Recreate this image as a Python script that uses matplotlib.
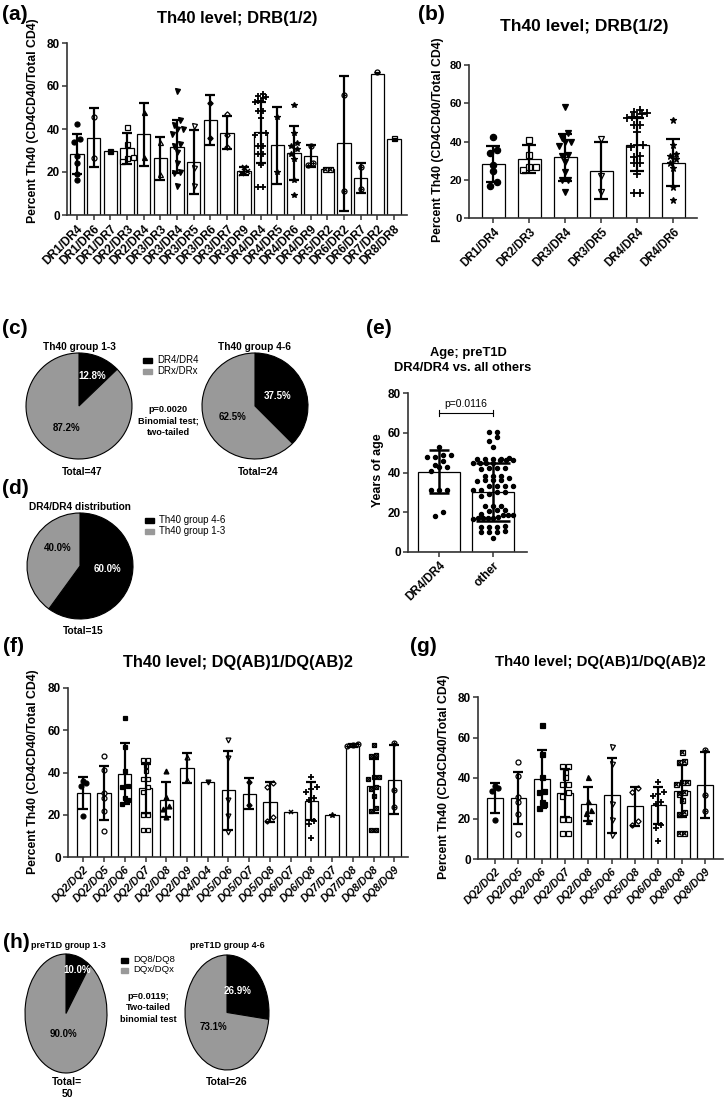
import numpy as np
import matplotlib.pyplot as plt
from matplotlib.patches import Rectangle

plt.rcParams['font.family'] = ['Liberation Sans', 'DejaVu Sans']

W, H = 724, 1100

# ---- Th40 level by DRB(1/2) genotype, panels (a) and (b)
a_labels = ['DR1/DR4', 'DR1/DR6', 'DR1/DR7', 'DR2/DR3', 'DR2/DR4', 'DR3/DR3', 'DR3/DR4',
            'DR3/DR5', 'DR3/DR6', 'DR3/DR7', 'DR3/DR9', 'DR4/DR4', 'DR4/DR5', 'DR4/DR6',
            'DR4/DR9', 'DR5/DR2', 'DR6/DR2', 'DR6/DR7', 'DR7/DR2', 'DR8/DR8']
a_mean = [28.3, 35.9, 30.0, 31.0, 37.5, 26.4, 31.7, 24.8, 44.0, 38.3,
          20.6, 38.4, 32.5, 28.9, 27.5, 21.2, 33.3, 17.2, 65.8, 35.5]
a_sd = [9.4, 13.8, 0, 7.3, 14.5, 10.1, 12.3, 14.8, 11.6, 7.6,
        1.9, 14.0, 17.9, 12.4, 5.2, 0, 31.3, 6.8, 0, 0]
a_points = [
    [42.5, 35.4, 33.9, 27.6, 24.4, 19.0, 16.5],
    [45.8, 26.5],
    [30.0],
    [40.9, 32.8, 26.8, 26.5, 24.9],
    [47.7, 26.9],
    [33.8, 19.2],
    [57.8, 44.2, 42.0, 40.0, 39.8, 37.7, 32.8, 32.3, 29.3, 24.1, 20.0, 19.7, 13.6],
    [41.4, 22.0, 13.4],
    [52.1, 35.9],
    [46.9, 37.0, 31.7],
    [22.5, 20.6, 19.7],
    [56.4, 55.2, 54.7, 54.2, 53.0, 52.9, 52.5, 48.6, 48.4, 45.1, 38.1, 38.1, 37.2,
     32.3, 32.0, 28.5, 28.5, 23.2, 13.1, 13.1],
    [45.4, 19.8],
    [51.2, 38.1, 33.7, 32.3, 30.6, 28.5, 25.9, 16.2, 9.3],
    [32.0, 24.0, 23.3],
    [21.3, 21.3],
    [55.6, 11.2],
    [22.2, 12.2],
    [66.3],
    [35.9],
]
a_marks = ['o', 'oo', 's', 'os', '^', 'o^', 'v', 'ov', 'D', 'oD',
           'x', '+', '*', '*', 'cp', 'bx', 'cp', 'cp', 'hc', 'hs']
b_labels = ['DR1/DR4', 'DR2/DR3', 'DR3/DR4', 'DR3/DR5', 'DR4/DR4', 'DR4/DR6']

# ---- pies (c), (d), (h)
c_names = ['DR4/DR4', 'DRx/DRx']
c_low = [12.8, 87.2]
c_high = [37.5, 62.5]
d_names = ['Th40 group 4-6', 'Th40 group 1-3']
d_vals = [60.0, 40.0]
h_names = ['DQ8/DQ8', 'DQx/DQx']
h_low = [10.0, 90.0]
h_high = [26.9, 73.1]

# ---- age, panel (e)
e_labels = ['DR4/DR4', 'other']
e_mean = [40.4, 30.3]
e_sd = [10.9, 14.6]
e_dr4 = [53, 49, 48, 48, 49, 46, 44, 43, 43, 41, 31, 31, 31, 20, 18]
e_other = [60.3, 60.3, 58, 56, 53,
           47, 47, 46.5, 47, 47.5, 46.5, 46.5, 47,
           44.6, 44.6, 44.6, 44.6,
           42.5, 42.5, 42, 42.5,
           38, 38, 37, 38,
           36, 36, 36, 35.5,
           33, 33, 33, 33,
           31, 30, 31, 30,
           28, 29,
           23, 23, 23,
           21, 20.5, 21,
           18.5, 18.5, 18.5, 19,
           17, 16.5, 17, 17, 17, 17.5,
           12.5, 12.5, 12.5, 13,
           10, 10, 10.5, 10,
           7]

# ---- Th40 level by DQ genotype, panels (f) and (g)
f_labels = ['DQ2/DQ2', 'DQ2/DQ5', 'DQ2/DQ6', 'DQ2/DQ7', 'DQ2/DQ8', 'DQ2/DQ9', 'DQ4/DQ4',
            'DQ5/DQ6', 'DQ5/DQ7', 'DQ5/DQ8', 'DQ6/DQ7', 'DQ6/DQ8', 'DQ7/DQ7', 'DQ7/DQ8',
            'DQ8/DQ8', 'DQ8/DQ9']
f_mean = [30.1, 30.2, 39.5, 32.5, 27.2, 42.0, 35.5, 31.5, 30.0, 26.0,
          21.5, 26.5, 20.0, 52.8, 33.6, 36.6]
f_sd = [7.6, 12.8, 14.4, 11.7, 8.3, 7.0, 0, 18.5, 7.5, 9.6,
        0, 9.2, 0, 0.6, 12.8, 16.3]
f_points = [
    [36.0, 35.0, 33.5, 19.5],
    [48.0, 41.0, 30.5, 28.0, 22.0, 12.5],
    [66.0, 52.0, 40.5, 33.5, 33.0, 28.0, 27.0, 25.0],
    [46.0, 46.0, 43.0, 40.5, 37.0, 37.0, 33.0, 31.0, 20.0, 20.0, 13.0, 13.0],
    [40.5, 28.5, 24.0, 22.5, 19.0],
    [47.5, 36.5],
    [35.5],
    [55.5, 47.0, 27.0, 19.5, 12.0],
    [35.5, 24.5],
    [35.0, 33.0, 19.0, 17.0],
    [21.5],
    [38.0, 33.0, 32.0, 31.0, 28.0, 27.0, 17.0, 15.5, 9.0],
    [20.0],
    [52.5, 53.0, 53.5],
    [53.0, 48.5, 48.0, 38.0, 38.0, 37.0, 33.0, 32.0, 29.0, 23.0, 22.0, 13.0, 13.0],
    [54.0, 31.5, 23.5],
]
f_marks = ['o', 'oo', 's', 'os', '^', 'o^', 'v', 'ov', 'D', 'oD',
           'x', '+', '*', 'cp', 'bx', 'cp']
g_labels = ['DQ2/DQ2', 'DQ2/DQ5', 'DQ2/DQ6', 'DQ2/DQ7', 'DQ2/DQ8', 'DQ5/DQ6',
            'DQ5/DQ8', 'DQ6/DQ8', 'DQ8/DQ8', 'DQ8/DQ9']

GRAY = '#999999'
MK = {
    'o': [dict(marker='o', mfc='k')],
    'oo': [dict(marker='o', mfc='w')],
    's': [dict(marker='s', mfc='k')],
    'os': [dict(marker='s', mfc='w')],
    '^': [dict(marker='^', mfc='k')],
    'o^': [dict(marker='^', mfc='w')],
    'v': [dict(marker='v', mfc='k')],
    'ov': [dict(marker='v', mfc='w')],
    'D': [dict(marker='D', mfc='k', sc=0.75)],
    'oD': [dict(marker='D', mfc='w', sc=0.75)],
    'x': [dict(marker='x', mew=1.1)],
    '+': [dict(marker='+', mew=1.3, sc=1.2)],
    '*': [dict(marker='*', mfc='k', sc=1.1)],
    'cp': [dict(marker='o', mfc='w'), dict(marker='+', sc=0.9)],
    'bx': [dict(marker='s', mfc='w'), dict(marker='x', sc=0.7)],
    'hc': [dict(marker='o', mfc='k', fillstyle='bottom', mfcalt='w')],
    'hs': [dict(marker='s', mfc='k', fillstyle='bottom', mfcalt='w')],
}


def box(x0, y0, x1, y1):
    return [x0 / W, 1 - y1 / H, (x1 - x0) / W, (y1 - y0) / H]


def ftext(x, y, s, **kw):
    fig.text(x / W, 1 - y / H, s, **kw)


def swarm(vals, dx, tol, maxspan):
    vals = np.asarray(vals, float)
    order = np.argsort(vals)
    v = vals[order]
    off = np.zeros(len(v))
    groups, cur = [], [0]
    for i in range(1, len(v)):
        if v[i] - v[cur[0]] < tol:
            cur.append(i)
        else:
            groups.append(cur)
            cur = [i]
    groups.append(cur)
    for g in groups:
        n = len(g)
        step = dx if n < 2 else min(dx, maxspan / (n - 1))
        for k, i in enumerate(g):
            off[i] = (k - (n - 1) / 2) * step
    res = np.zeros(len(v))
    res[order] = off
    return res


def put_marks(ax, xs, ys, kind, ms):
    for lay in MK[kind]:
        lay = dict(lay)
        sc = lay.pop('sc', 1.0)
        mew = lay.pop('mew', 0.9)
        ax.plot(xs, ys, ls='none', ms=ms * sc, mec='k', color='k', mew=mew,
                zorder=3, clip_on=False, **lay)


def style_axes(ax, xlim, fs_y, ymax=80):
    ax.set_xlim(*xlim)
    ax.set_ylim(0, ymax)
    ax.set_yticks([0, 20, 40, 60, 80])
    for s in ['top', 'right']:
        ax.spines[s].set_visible(False)
    for s in ['left', 'bottom']:
        ax.spines[s].set_linewidth(1.2)
        ax.spines[s].set_color('#333333')
    ax.tick_params(axis='both', direction='out', length=3.5, width=1.1, color='#333333')
    ax.tick_params(axis='y', labelsize=fs_y, pad=1.5)
    ax.tick_params(axis='x', pad=2)
    for t in ax.get_yticklabels():
        t.set_fontweight('bold')


def bar_panel(ax, labels, means, sds, points, marks, xlim, width, ms, dx, tol,
              cap, fs_y, fs_x, xstyle='normal'):
    x = np.arange(len(labels))
    ax.bar(x, means, width=width, color='white', edgecolor='k', linewidth=0.9, zorder=1)
    for i in range(len(labels)):
        off = swarm(points[i], dx, tol, width * 0.85)
        put_marks(ax, x[i] + off, points[i], marks[i], ms)
        if sds[i] > 0:
            ax.errorbar(x[i], means[i], yerr=sds[i], fmt='none', ecolor='k',
                        elinewidth=1.6, capsize=cap, capthick=1.6, zorder=4)
    style_axes(ax, xlim, fs_y)
    ax.set_xticks(x)
    ax.set_xticklabels(labels, rotation=45, ha='right', va='top', rotation_mode='anchor',
                       fontsize=fs_x, fontweight='bold', fontstyle=xstyle)


def pie_panel(bx, vals, pos, fs=7):
    ax = fig.add_axes(box(*bx))
    wedges, _ = ax.pie(vals, colors=['k', GRAY], startangle=90, counterclock=False,
                       radius=1, wedgeprops=dict(edgecolor='k', linewidth=0.8))
    for w in wedges:
        w.set_clip_on(False)
    ax.set_aspect('auto')
    ax.set_xlim(-1, 1)
    ax.set_ylim(-1, 1)
    ax.axis('off')
    for v, (tx, ty), col in zip(vals, pos, ['white', 'k']):
        ax.text(tx, ty, f'{v:.1f}%', color=col, ha='center', va='center',
                fontsize=fs, fontweight='bold')
    return ax


def legend_box(x, y, names, fs=7, dy=11, sw=9, sh=5):
    for k, (nm, col) in enumerate(zip(names, ['k', GRAY])):
        yy = y + k * dy
        fig.add_artist(Rectangle((x / W, 1 - (yy + sh / 2) / H), sw / W, sh / H,
                                 transform=fig.transFigure, color=col))
        ftext(x + sw + 5, yy, nm, fontsize=fs, va='center', ha='left')


fig = plt.figure(figsize=(W / 100, H / 100), dpi=100)

ylab = 'Percent Th40 (CD4CD40/Total CD4)'

# (a)
ax_a = fig.add_axes(box(67, 43, 407, 215))
bar_panel(ax_a, a_labels, a_mean, a_sd, a_points, a_marks, (-0.6, 19.78), 0.8,
          ms=3.6, dx=0.33, tol=2.4, cap=3.6, fs_y=8.5, fs_x=8.6)
ftext(2, 14, '(a)', fontsize=15, fontweight='bold', va='center')
ftext(237, 18, 'Th40 level; DRB(1/2)', fontsize=12, fontweight='bold', ha='center', va='center')
ftext(33, 121, ylab, rotation=90, fontsize=8.8, fontweight='bold', ha='center', va='center')

# (b)
ax_b = fig.add_axes(box(469, 65, 697, 218))
idx = [a_labels.index(l) for l in b_labels]
bar_panel(ax_b, b_labels, [a_mean[i] for i in idx], [a_sd[i] for i in idx],
          [a_points[i] for i in idx], [a_marks[i] for i in idx], (-0.68, 5.66), 0.65,
          ms=4.5, dx=0.17, tol=2.6, cap=4.7, fs_y=8, fs_x=8.3)
ftext(418, 14, '(b)', fontsize=15, fontweight='bold', va='center')
ftext(584, 26, 'Th40 level; DRB(1/2)', fontsize=12.5, fontweight='bold', ha='center', va='center')
ftext(438, 140, ylab, rotation=90, fontsize=8.8, fontweight='bold', ha='center', va='center')

# (c)
ftext(2, 329, '(c)', fontsize=15, fontweight='bold', va='center')
pie_panel((26, 353, 132, 459), c_low, [(0.25, 0.57), (-0.23, -0.42)])
pie_panel((202, 353, 308, 459), c_high, [(0.42, 0.19), (-0.42, -0.2)])
ftext(79, 347, 'Th40 group 1-3', fontsize=7.3, fontweight='bold', ha='center', va='center')
ftext(255, 347, 'Th40 group 4-6', fontsize=7.3, fontweight='bold', ha='center', va='center')
ftext(82, 472, 'Total=47', fontsize=7.3, fontweight='bold', ha='center', va='center')
ftext(258, 472, 'Total=24', fontsize=7.3, fontweight='bold', ha='center', va='center')
ftext(168, 421, 'p=0.0020\nBinomial test;\ntwo-tailed', fontsize=6.6, fontweight='bold',
      ha='center', va='center', linespacing=1.35)
legend_box(143, 360, c_names)

# (d)
ftext(2, 489, '(d)', fontsize=15, fontweight='bold', va='center')
ftext(80, 507, 'DR4/DR4 distribution', fontsize=7.3, fontweight='bold', ha='center', va='center')
pie_panel((27, 513, 133, 619), d_vals, [(0.51, -0.06), (-0.43, 0.34)])
ftext(83, 631, 'Total=15', fontsize=7.3, fontweight='bold', ha='center', va='center')
legend_box(145, 520, d_names)

# (e)
ax_e = fig.add_axes(box(408, 393, 527, 552))
xe = np.arange(2)
ax_e.bar(xe, e_mean, width=0.78, color='white', edgecolor='k', linewidth=0.9, zorder=1)
for i, pts in enumerate([e_dr4, e_other]):
    off = swarm(pts, 0.15, 2.2, 0.74)
    put_marks(ax_e, xe[i] + off, pts, 'o', 3.0)
ax_e.errorbar(xe[0], e_mean[0], yerr=e_sd[0], fmt='none', ecolor='k', elinewidth=1.8,
              capsize=7.4, capthick=1.8, zorder=4)
ax_e.errorbar(xe[1], e_mean[1], yerr=e_sd[1], fmt='none', ecolor='k', elinewidth=1.8,
              capsize=12, capthick=1.8, zorder=4)
style_axes(ax_e, (-0.57, 1.63), 8.5)
ax_e.set_xticks(xe)
ax_e.set_xticklabels(e_labels, rotation=45, ha='right', va='top', rotation_mode='anchor',
                     fontsize=8.5, fontweight='bold')
ax_e.plot([0, 1], [70, 70], color='k', lw=0.8, clip_on=False)
for xx in [0, 1]:
    ax_e.plot([xx, xx], [68.6, 71.4], color='k', lw=0.8, clip_on=False)
ax_e.text(0.5, 72, 'p=0.0116', fontsize=7.5, ha='center', va='bottom')
ftext(366, 329, '(e)', fontsize=15, fontweight='bold', va='center')
ftext(468, 353, 'Age; preT1D', fontsize=9.3, fontweight='bold', ha='center', va='center')
ftext(463, 368, 'DR4/DR4 vs. all others', fontsize=9.3, fontweight='bold', ha='center', va='center')
ftext(378, 470, 'Years of age', rotation=90, fontsize=9, fontweight='bold', ha='center', va='center')

# (f)
ax_f = fig.add_axes(box(68, 688, 408, 857))
bar_panel(ax_f, f_labels, f_mean, f_sd, f_points, f_marks, (-0.74, 15.66), 0.64,
          ms=3.5, dx=0.27, tol=2.4, cap=3.6, fs_y=8.5, fs_x=7.6, xstyle='italic')
ftext(3, 647, '(f)', fontsize=15, fontweight='bold', va='center')
ftext(238, 663, 'Th40 level; DQ(AB)1/DQ(AB)2', fontsize=11.8, fontweight='bold', ha='center', va='center')
ftext(33, 772, ylab, rotation=90, fontsize=8.8, fontweight='bold', ha='center', va='center')

# (g)
ax_g = fig.add_axes(box(478, 697, 723, 859))
idx = [f_labels.index(l) for l in g_labels]
bar_panel(ax_g, g_labels, [f_mean[i] for i in idx], [f_sd[i] for i in idx],
          [f_points[i] for i in idx], [f_marks[i] for i in idx], (-0.73, 9.77), 0.67,
          ms=3.6, dx=0.23, tol=2.4, cap=3.6, fs_y=8.5, fs_x=7.6, xstyle='italic')
ftext(410, 647, '(g)', fontsize=15, fontweight='bold', va='center')
ftext(600, 662, 'Th40 level; DQ(AB)1/DQ(AB)2', fontsize=10.8, fontweight='bold', ha='center', va='center')
ftext(444, 777, ylab, rotation=90, fontsize=8.8, fontweight='bold', ha='center', va='center')

# (h)
ftext(3, 942, '(h)', fontsize=15, fontweight='bold', va='center')
pie_panel((25, 954, 107, 1073), h_low, [(0.27, 0.73), (-0.07, -0.35)], fs=7)
pie_panel((185, 955, 269, 1070), h_high, [(0.26, 0.38), (-0.33, -0.26)], fs=7)
ftext(68, 946, 'preT1D group 1-3', fontsize=6.5, fontweight='bold', ha='center', va='center')
ftext(227, 946, 'preT1D group 4-6', fontsize=6.5, fontweight='bold', ha='center', va='center')
ftext(148, 1008, 'p=0.0119;\nTwo-tailed\nbinomial test', fontsize=6.6, fontweight='bold',
      ha='center', va='center', linespacing=1.35)
ftext(67, 1088, 'Total=\n50', fontsize=7.5, fontweight='bold', ha='center', va='center',
      linespacing=1.3)
ftext(227, 1082, 'Total=26', fontsize=7.5, fontweight='bold', ha='center', va='center')
legend_box(121, 960, h_names, fs=6.8, dy=10, sw=7, sh=5)

fig.savefig('out.png', dpi=100)
